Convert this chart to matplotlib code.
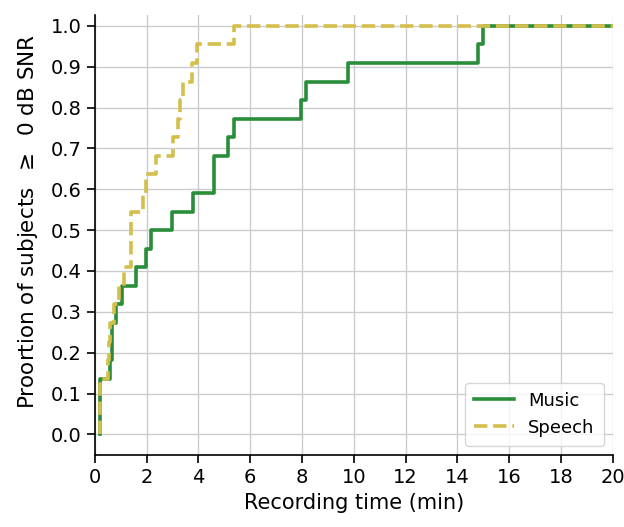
import numpy as np
import matplotlib
matplotlib.use("Agg")
import matplotlib.pyplot as plt

# time (min) at which each subject first reached 0 dB SNR
music_times = [0.18, 0.18, 0.18, 0.57, 0.66, 0.66, 0.83, 1.05, 1.57, 1.98,
               2.15, 2.97, 3.78, 4.6, 4.6, 5.16, 5.37, 7.98, 8.17, 9.78,
               14.78, 14.98]
speech_times = [0.18, 0.18, 0.18, 0.5, 0.55, 0.6, 0.75, 0.95, 1.13, 1.38,
                1.38, 1.38, 1.85, 1.98, 2.37, 3.0, 3.2, 3.3, 3.42, 3.75,
                3.95, 5.38]

series_names = ["Music", "Speech"]
colors = {"Music": "#2a8d3a", "Speech": "#d4bf4c"}
styles = {"Music": "-", "Speech": "--"}

x_max = 20
x_ticks = np.arange(0, 21, 2)
y_ticks = np.arange(0, 1.01, 0.1)


def ecdf_steps(times, x_end):
    """Turn onset times into step coordinates of the cumulative proportion."""
    t = np.sort(np.asarray(times, dtype=float))
    frac = np.arange(1, len(t) + 1) / len(t)
    xs = np.concatenate([[t[0]], t, [x_end]])
    ys = np.concatenate([[0.0], frac, [frac[-1]]])
    return xs, ys


fig = plt.figure(figsize=(6.24, 5.27), dpi=100)
ax = fig.add_axes([0.152, 0.137, 0.83, 0.835])

for name, times in zip(series_names, [music_times, speech_times]):
    xs, ys = ecdf_steps(times, x_max)
    ax.step(xs, ys, where="post", color=colors[name], linestyle=styles[name],
            linewidth=2.6, label=name, zorder=3)

ax.set_xlim(0, x_max)
ax.set_ylim(-0.05, 1.027)
ax.set_xticks(x_ticks)
ax.set_yticks(y_ticks)
ax.set_yticklabels([f"{v:.1f}" for v in y_ticks])
ax.tick_params(labelsize=14, length=6, width=1.2)
ax.grid(True, color="#cccccc", linewidth=1.0)
ax.set_axisbelow(True)

for side in ["top", "right"]:
    ax.spines[side].set_visible(False)
for side in ["left", "bottom"]:
    ax.spines[side].set_linewidth(1.2)

ax.set_xlabel("Recording time (min)", fontsize=15)
ax.set_ylabel("Proortion of subjects $\\;\\geq\\;$ 0 dB SNR", fontsize=15.5,
              labelpad=8)
ax.yaxis.label.set_y(0.53)

ax.legend(loc="lower right", fontsize=13, handlelength=2.2,
          borderpad=0.5, labelspacing=0.5)

fig.savefig("out.png", dpi=100)
